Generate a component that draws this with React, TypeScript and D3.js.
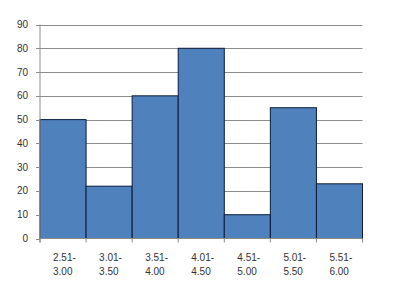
import React from "react";
import * as d3 from "d3";

const categories: string[][] = [
  ["2.51-", "3.00"],
  ["3.01-", "3.50"],
  ["3.51-", "4.00"],
  ["4.01-", "4.50"],
  ["4.51-", "5.00"],
  ["5.01-", "5.50"],
  ["5.51-", "6.00"],
];
const values: number[] = [50, 22, 60, 80, 10, 55, 23];
const yTicks: number[] = [0, 10, 20, 30, 40, 50, 60, 70, 80, 90];

export default function App() {
  const W = 400, H = 297;
  const left = 40, right = 362.5, top = 24.5, bottom = 238.5;
  const x = d3.scaleBand<number>().domain(d3.range(values.length)).range([left, right]).padding(0);
  const y = d3.scaleLinear().domain([0, 90]).range([bottom, top]);
  const font = "'Liberation Sans', Arial, sans-serif";
  const bw = x.bandwidth();
  return (
    <svg width={W} height={H} style={{ position: "absolute", left: 0, top: 0, background: "#fff" }}>
      {yTicks.filter((t) => t > 0).map((t) => (
        <line key={"g" + t} x1={left} x2={right} y1={Math.round(y(t)) + 0.5} y2={Math.round(y(t)) + 0.5} stroke="#8c8c8c" strokeWidth={1} />
      ))}
      {values.map((v, i) => (
        <rect key={"b" + i} x={x(i)!} y={y(v)} width={bw} height={bottom - y(v)} fill="#4F81BD" stroke="#0d1a3a" strokeWidth={1} />
      ))}
      <line x1={left} x2={left} y1={top} y2={bottom + 4} stroke="#8c8c8c" />
      <line x1={left} x2={right} y1={bottom} y2={bottom} stroke="#8c8c8c" />
      {yTicks.map((t) => (
        <g key={"t" + t}>
          <line x1={left - 4} x2={left} y1={Math.round(y(t)) + 0.5} y2={Math.round(y(t)) + 0.5} stroke="#8c8c8c" />
          <text x={28} y={y(t) + 3.5} textAnchor="end" fontFamily={font} fontSize={10} fill="#333">{t}</text>
        </g>
      ))}
      {d3.range(values.length + 1).map((i) => {
        const xx = i < values.length ? x(i)! : right;
        return <line key={"xt" + i} x1={xx} x2={xx} y1={bottom} y2={bottom + 4} stroke="#8c8c8c" />;
      })}
      {categories.map((c, i) => (
        <text key={"c" + i} fontFamily={font} fontSize={10} fill="#333">
          {c.map((line, j) => (
            <tspan key={j} x={x(i)! + bw / 2 - 10} y={261 + j * 14}>{line}</tspan>
          ))}
        </text>
      ))}
    </svg>
  );
}
